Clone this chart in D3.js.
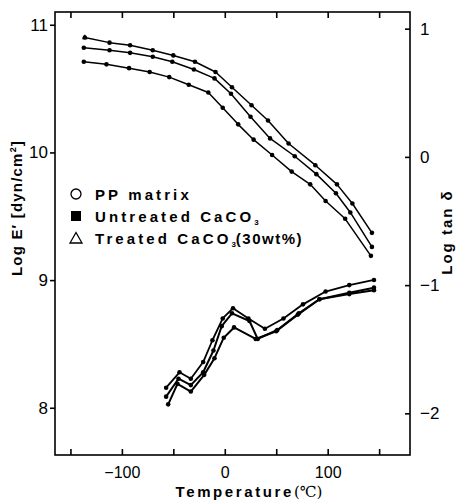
<!DOCTYPE html>
<html>
<head>
<meta charset="utf-8">
<script src="https://cdn.jsdelivr.net/npm/d3@7"></script>
<style>
html,body{margin:0;padding:0;background:#fff;}
svg{display:block;}
text{font-family:"Liberation Sans","DejaVu Sans",Arial,sans-serif;fill:#000;}
</style>
</head>
<body>
<script>
// ---- data ----
const xTicks = [-150, -100, -50, 0, 50, 100, 150];
const xTickLabels = ["", "\u2212100", "", "0", "", "100", ""];
const leftTicks = [8, 9, 10, 11];
const rightTicks = [1, 0, -1, -2];
const rightTickLabels = ["1", "0", "\u22121", "\u22122"];

// Log E' curves
const treatedE_T = [-136, -112, -92, -70, -50, -29, -9, 7, 26, 42, 62, 88, 109, 124, 143];
const treatedE   = [10.90, 10.86, 10.84, 10.80, 10.76, 10.71, 10.63, 10.51, 10.37, 10.25, 10.07, 9.90, 9.75, 9.60, 9.37];
const untreatedE_T = [-137, -112, -92, -70, -51, -30, -10, 6, 25, 44, 68, 89, 108, 122, 143];
const untreatedE   = [10.82, 10.80, 10.78, 10.75, 10.71, 10.65, 10.58, 10.46, 10.28, 10.11, 9.97, 9.83, 9.68, 9.53, 9.26];
const ppE_T = [-137, -115, -93, -73, -54, -35, -16, -2, 13, 28, 46, 65, 83, 98, 117, 142];
const ppE   = [10.71, 10.69, 10.66, 10.63, 10.59, 10.53, 10.47, 10.35, 10.22, 10.10, 9.98, 9.85, 9.75, 9.62, 9.48, 9.19];

// Log tan delta curves (right axis)
const treatedTan_T = [-57, -44, -33, -21, -12, -2, 8, 23, 39, 57, 76, 98, 121, 145];
const treatedTan   = [-1.80, -1.68, -1.73, -1.60, -1.43, -1.26, -1.18, -1.26, -1.34, -1.26, -1.15, -1.05, -1.00, -0.96];
const untreatedTan_T = [-57, -45, -33, -21, -11, -3, 7, 24, 32, 51, 72, 92, 121, 145];
const untreatedTan   = [-1.87, -1.73, -1.78, -1.68, -1.51, -1.32, -1.22, -1.28, -1.42, -1.35, -1.22, -1.11, -1.06, -1.02];
const ppTan_T = [-55, -46, -33, -20, -10, -1, 9, 30, 50, 71, 92, 121, 145];
const ppTan   = [-1.93, -1.77, -1.83, -1.70, -1.57, -1.41, -1.33, -1.42, -1.36, -1.23, -1.11, -1.07, -1.04];

const legendItems = ["PP matrix", "Untreated CaCO", "Treated CaCO"];

// ---- drawing ----
const W = 460, H = 501;
const L = 55, R = 410, T = 12, B = 455;
const svg = d3.select("body").append("svg").attr("width", W).attr("height", H);

const x = d3.scaleLinear().domain([-165, 180]).range([L, R]);
const yL = d3.scaleLinear().domain([7.63, 11.1]).range([B, T]);
const yR = d3.scaleLinear().domain([-2.325, 1.130]).range([B, T]);

// frame
svg.append("rect").attr("x", L).attr("y", T).attr("width", R - L).attr("height", B - T)
  .attr("fill", "none").attr("stroke", "#000").attr("stroke-width", 1.6);

// bottom axis (inward ticks)
const bottomAxis = d3.axisBottom(x).tickValues(xTicks).tickSizeInner(-6).tickSizeOuter(0)
  .tickFormat((d, i) => xTickLabels[i]).tickPadding(12);
const gb = svg.append("g").attr("transform", `translate(0,${B})`).call(bottomAxis);
gb.select(".domain").remove();
gb.selectAll("line").attr("stroke-width", 1.6);
gb.selectAll("text").attr("font-size", 16).attr("font-family", "Liberation Sans, sans-serif");

// top ticks (inward)
const topAxis = d3.axisTop(x).tickValues(xTicks).tickSizeInner(-6).tickSizeOuter(0).tickFormat("");
const gt = svg.append("g").attr("transform", `translate(0,${T})`).call(topAxis);
gt.select(".domain").remove();
gt.selectAll("line").attr("stroke-width", 1.6);

// left axis (outward ticks)
const leftAxis = d3.axisLeft(yL).tickValues(leftTicks).tickSizeInner(5).tickSizeOuter(0)
  .tickFormat(d3.format("d")).tickPadding(2);
const gl = svg.append("g").attr("transform", `translate(${L},0)`).call(leftAxis);
gl.select(".domain").remove();
gl.selectAll("line").attr("stroke-width", 1.6);
gl.selectAll("text").attr("font-size", 17);

// right axis (inward ticks)
const rightAxis = d3.axisRight(yR).tickValues(rightTicks).tickSizeInner(-5).tickSizeOuter(0)
  .tickFormat((d, i) => rightTickLabels[i]).tickPadding(10);
const gr = svg.append("g").attr("transform", `translate(${R},0)`).call(rightAxis);
gr.select(".domain").remove();
gr.selectAll("line").attr("stroke-width", 1.6);
gr.selectAll("text").attr("font-size", 17);

// axis titles
svg.append("text")
  .attr("transform", `translate(22,208) rotate(-90)`)
  .attr("text-anchor", "middle").attr("font-size", 15).attr("font-weight", "bold")
  .attr("letter-spacing", 1.2)
  .html('Log E\u2032 [dyn/cm<tspan font-size="9" dy="-6">2</tspan><tspan dy="6">]</tspan>');

svg.append("text")
  .attr("transform", `translate(452,232) rotate(-90)`)
  .attr("text-anchor", "middle").attr("font-size", 15).attr("font-weight", "bold")
  .attr("letter-spacing", 2)
  .text("Log tan \u03B4");

svg.append("text")
  .attr("x", 249).attr("y", 497)
  .attr("text-anchor", "middle").attr("font-size", 15).attr("font-weight", "bold")
  .attr("letter-spacing", 2.6)
  .html('Temperature<tspan font-weight="normal" font-family="DejaVu Serif, serif" letter-spacing="0">(\u2103)</tspan>');

// series
function drawSeries(xs, ys, scale, width, firstMarker) {
  const pts = xs.map((t, i) => [t, ys[i]]);
  const line = d3.line().x(d => x(d[0])).y(d => scale(d[1]));
  svg.append("path").datum(pts).attr("d", line)
    .attr("fill", "none").attr("stroke", "#000").attr("stroke-width", width)
    .attr("stroke-linejoin", "round");
  svg.append("g").selectAll("circle").data(pts).join("circle")
    .attr("cx", d => x(d[0])).attr("cy", d => scale(d[1])).attr("r", 2.3).attr("fill", "#000");
  if (firstMarker === "tri") {
    const p = pts[0];
    svg.append("path").attr("d", d3.symbol().type(d3.symbolTriangle).size(14)())
      .attr("transform", `translate(${x(p[0])},${scale(p[1])})`).attr("fill", "#000");
  }
}
drawSeries(treatedE_T, treatedE, yL, 1.5, "tri");
drawSeries(untreatedE_T, untreatedE, yL, 1.5);
drawSeries(ppE_T, ppE, yL, 1.5);
drawSeries(treatedTan_T, treatedTan, yR, 1.8);
drawSeries(untreatedTan_T, untreatedTan, yR, 2.0);
drawSeries(ppTan_T, ppTan, yR, 2.0);

// legend
const lg = svg.append("g");
const lx = 76, ly0 = 194, dy = 22;
lg.append("circle").attr("cx", lx).attr("cy", ly0).attr("r", 5).attr("fill", "#fff")
  .attr("stroke", "#000").attr("stroke-width", 1.3);
lg.append("rect").attr("x", lx - 5).attr("y", ly0 + dy - 5).attr("width", 10).attr("height", 10)
  .attr("fill", "#000");
lg.append("path").attr("d", "M0,-5.5L6,5L-6,5Z")
  .attr("transform", `translate(${lx},${ly0 + 2 * dy})`)
  .attr("fill", "#fff").attr("stroke", "#000").attr("stroke-width", 1.3);

const legText = (i) => lg.append("text").attr("x", 95).attr("y", ly0 + i * dy + 5.5)
  .attr("font-size", 15).attr("font-weight", "bold").attr("letter-spacing", 3.1);
legText(0).text(legendItems[0]);
legText(1).html(legendItems[1] + '<tspan font-size="8" dy="3" letter-spacing="0">3</tspan>');
legText(2).html(legendItems[2] + '<tspan font-size="8" dy="3" letter-spacing="0">3</tspan><tspan dy="-3" letter-spacing="1.5">(30wt%)</tspan>');
</script>
</body>
</html>
